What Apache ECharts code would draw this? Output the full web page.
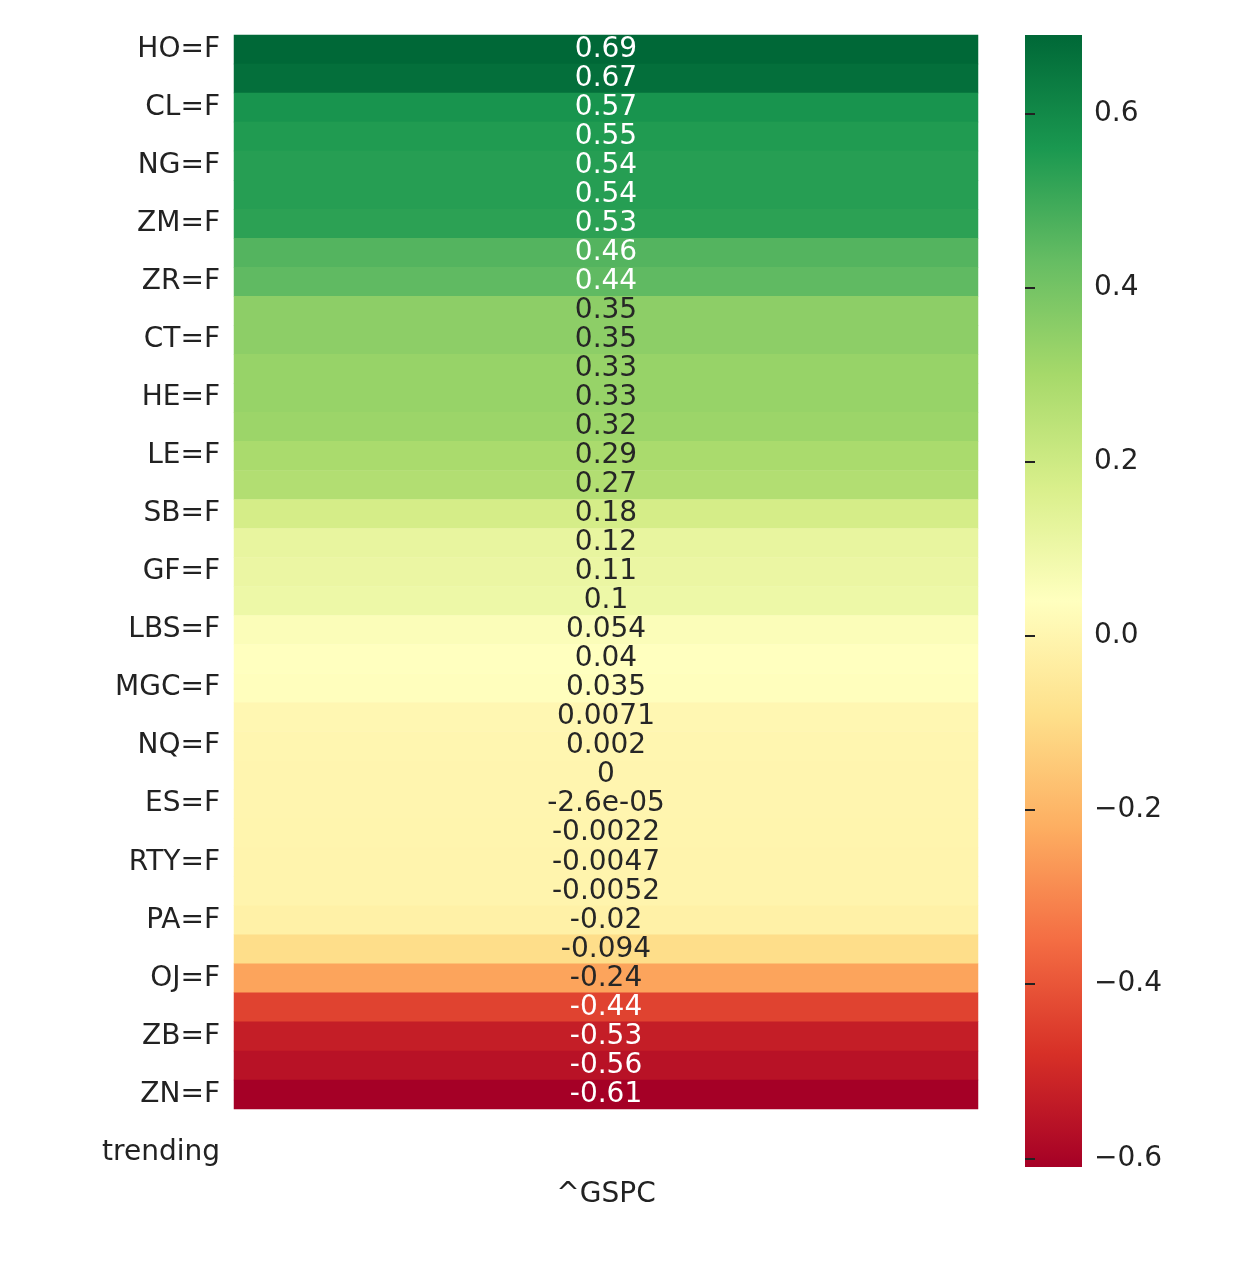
<!DOCTYPE html>
<html>
<head>
<meta charset="utf-8">
<script src="https://cdn.jsdelivr.net/npm/echarts@6/dist/echarts.min.js"></script>
<style>html,body{margin:0;padding:0;background:#fff}#chart{width:1241px;height:1270px}</style>
</head>
<body>
<div id="chart"></div>
<script>
// row labels (only every other row is labelled in the picture)
var rowLabels = ['HO=F','','CL=F','','NG=F','','ZM=F','','ZR=F','','CT=F','','HE=F','','LE=F','',
  'SB=F','','GF=F','','LBS=F','','MGC=F','','NQ=F','','ES=F','','RTY=F','','PA=F','','OJ=F','',
  'ZB=F','','ZN=F','','trending'];
var colLabels = ['^GSPC'];
var corrValues = [0.69,0.67,0.57,0.55,0.54,0.54,0.53,0.46,0.44,0.35,0.35,0.33,0.33,0.32,0.29,0.27,
  0.18,0.12,0.11,0.1,0.054,0.04,0.035,0.0071,0.002,0,-2.6e-05,-0.0022,-0.0047,-0.0052,-0.02,-0.094,
  -0.24,-0.44,-0.53,-0.56,-0.61];
var barTicks = [-0.6,-0.4,-0.2,0,0.2,0.4,0.6];
var cmap = ['#a50026','#d73027','#f46d43','#fdae61','#fee08b','#ffffbf','#d9ef8b','#a6d96a','#66bd63','#1a9850','#006837'];

var vmin = Math.min.apply(null, corrValues), vmax = Math.max.apply(null, corrValues);

function fmt(v) {
  if (v !== 0 && Math.abs(v) < 1e-4) return v.toExponential(1).replace(/e-(\d)$/, 'e-0$1');
  return String(v);
}

var data = corrValues.map(function (v, i) {
  return {value: [0, i, v], label: {color: Math.abs(v) >= 0.44 ? '#ffffff' : '#262626'}};
});

var chart = echarts.init(document.getElementById('chart'));
var font = 'DejaVu Sans';
var gradStops = cmap.map(function (c, i) { return {offset: 1 - i / (cmap.length - 1), color: c}; });

chart.setOption({
  animation: false,
  textStyle: {fontFamily: font},
  grid: [
    {left: 234, right: 263, top: 35, bottom: 103},
    {left: 1025, right: 159, top: 35, bottom: 103}
  ],
  xAxis: [
    {type: 'category', data: colLabels, gridIndex: 0, axisLine: {show: false},
      axisTick: {alignWithLabel: true, length: 10, lineStyle: {color: '#222', width: 2}},
      axisLabel: {fontSize: 28, color: '#222', margin: 14}},
    {type: 'value', gridIndex: 1, show: false, min: 0, max: 1}
  ],
  yAxis: [
    {type: 'category', data: rowLabels, inverse: true, gridIndex: 0, axisLine: {show: false},
      axisTick: {alignWithLabel: true, interval: 1, length: 10, lineStyle: {color: '#222', width: 2}},
      axisLabel: {interval: 1, fontSize: 28, color: '#222', margin: 14}},
    {type: 'value', gridIndex: 1, min: vmin, max: vmax, position: 'right', splitLine: {show: false},
      axisLine: {show: false},
      axisTick: {show: true, length: 10, customValues: barTicks, lineStyle: {color: '#222', width: 2}},
      axisLabel: {fontSize: 28, color: '#222', margin: 12, customValues: barTicks,
        formatter: function (v) { return (v < 0 ? '\u2212' : '') + Math.abs(v).toFixed(1); }}}
  ],
  visualMap: {show: false, min: vmin, max: vmax, seriesIndex: 0, dimension: 2, inRange: {color: cmap}},
  series: [
    {type: 'heatmap', xAxisIndex: 0, yAxisIndex: 0, data: data,
      label: {show: true, fontSize: 28, fontFamily: font,
        formatter: function (p) { return fmt(p.value[2]); }}},
    {type: 'bar', xAxisIndex: 1, yAxisIndex: 1, data: [], silent: true}
  ],
  graphic: [{type: 'rect', shape: {x: 1025, y: 35, width: 57, height: 1132},
    style: {fill: new echarts.graphic.LinearGradient(0, 0, 0, 1, gradStops)}, z: -1}]
});
</script>
</body>
</html>
